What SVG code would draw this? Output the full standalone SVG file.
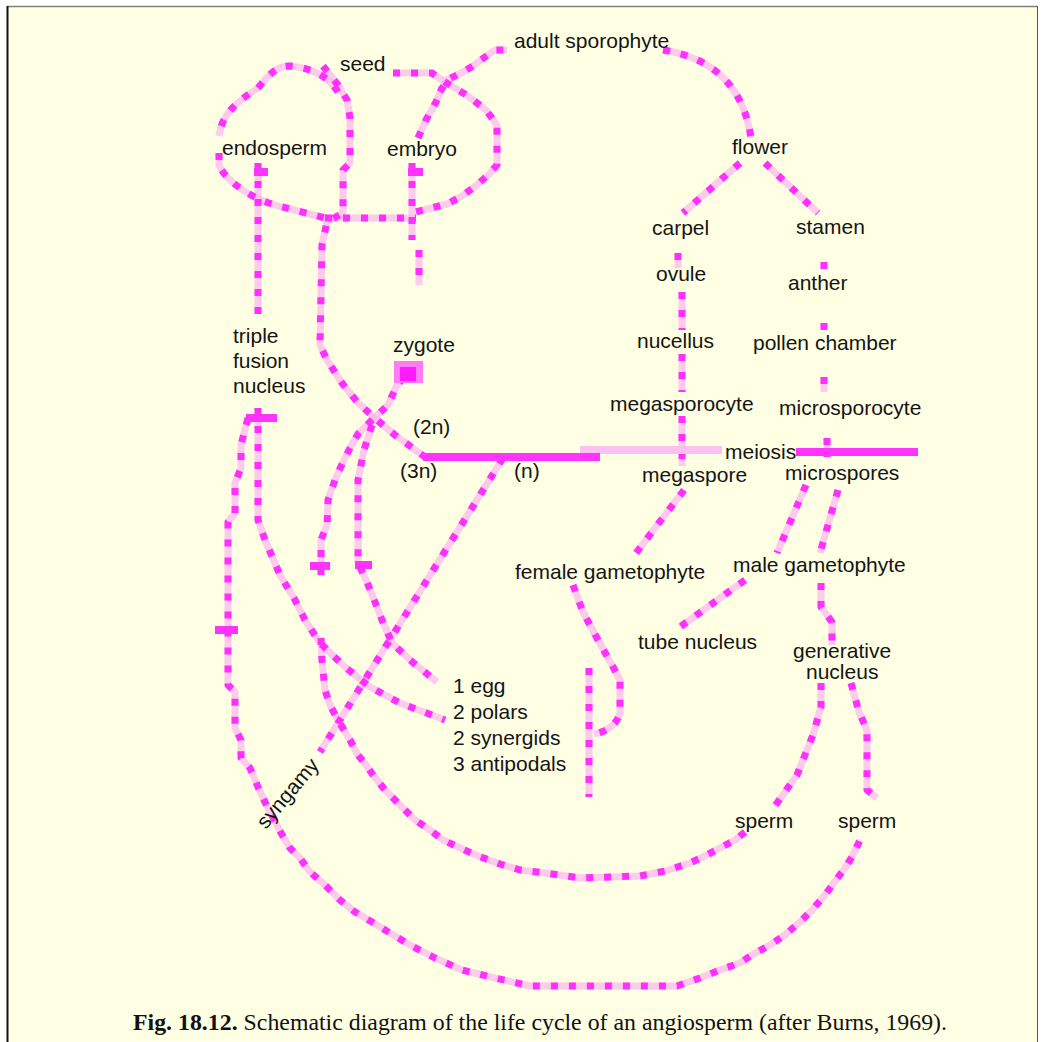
<svg xmlns="http://www.w3.org/2000/svg" xmlns:xlink="http://www.w3.org/1999/xlink" width="1052" height="1042" viewBox="0 0 1052 1042">
<style>
  .lbl { font-family: "Liberation Sans", Arial, sans-serif; font-size: 21px; fill: #141414; }
  .cap { font-family: "Liberation Serif", "Times New Roman", serif; font-size: 23.5px; fill: #111; }
  .base { fill: none; stroke: #ffb4f0; stroke-opacity: 0.7; stroke-width: 7; stroke-linejoin: round; }
  .dash { fill: none; stroke: #ff30ff; stroke-width: 7; stroke-dasharray: 7 11; stroke-linejoin: round; }
  .solid { fill: none; stroke: #ff33ff; stroke-width: 8; }
  .pale { fill: none; stroke: #ffbff0; stroke-width: 8; }
</style>
<defs>
  <path id="c1" d="M 338,92 C 328,76 312,68 290,66 C 275,66 268,76 258,88 C 240,100 222,112 219,136"/>
  <path id="c2" d="M 219,153 L 219,165 C 225,180 250,198 275,205 L 325,218"/>
  <path id="c3" d="M 323,66 L 338,85 L 347,100 L 350,118 L 350,163 L 343,170 L 343,213 L 327,222 L 322,245 L 320,345 L 327,360 L 342,383 L 358,403 L 377,420 L 395,435 L 425,457"/>
  <path id="c4" d="M 325,218 L 416,218"/>
  <path id="c5" d="M 418,138 L 426,120 L 436,102 L 442,88"/>
  <path id="c6" d="M 393,73 L 432,73 L 445,82 L 468,96 L 486,110 L 497,125 L 497,165 L 489,174 L 477,185 L 462,196 L 447,204 L 416,212"/>
  <path id="c7" d="M 440,92 L 447,80 L 463,72 L 473,66 L 485,57 L 495,50 L 507,50"/>
  <path id="c8" d="M 663,50 Q 740,62 751,138"/>
  <path id="c9" d="M 740,163 L 683,213"/>
  <path id="c10" d="M 765,163 L 818,213"/>
  <path id="c11" d="M 678,253 L 678,268"/>
  <path id="c12" d="M 682,292 L 682,330"/>
  <path id="c13" d="M 682,354 L 682,392"/>
  <path id="c14" d="M 682,416 L 682,466"/>
  <path id="c15" d="M 824,262 L 824,269"/>
  <path id="c16" d="M 824,323 L 824,330"/>
  <path id="c17" d="M 824,377 L 824,392"/>
  <path id="c18" d="M 827,438 L 827,457"/>
  <path id="c19" d="M 503,458 L 320,752"/>
  <path id="c20" d="M 684,490 L 636,553"/>
  <path id="c21" d="M 806,485 L 777,553"/>
  <path id="c22" d="M 838,490 L 820,553"/>
  <path id="c23" d="M 745,580 L 680,627"/>
  <path id="c24" d="M 821,583 L 821,607 L 832,622 L 832,645"/>
  <path id="c25" d="M 821,683 L 821,707 L 813,735 L 797,775 L 775,806"/>
  <path id="c26" d="M 851,683 L 859,712 L 867,730 L 867,790 L 877,798"/>
  <path id="c27" d="M 573,585 L 583,612 L 598,640 L 612,665 L 620,680 L 620,713 Q 615,730 594,734"/>
  <path id="c28" d="M 589,668 L 589,797"/>
  <path id="c29" d="M 745,832 L 735,840 L 720,848 L 705,856 L 690,863 L 665,871 L 640,876 L 580,878 L 545,873 L 520,870 L 500,864 L 478,856 L 458,847 L 443,840 L 430,830 L 415,820 L 400,805 L 385,790 L 373,775 L 366,765 L 358,755 L 350,740 L 338,720 L 330,705 L 325,690 L 322,660 L 321,638"/>
  <path id="c30" d="M 321,575 L 321,540 L 327,525 L 328,500 L 335,480 L 343,462 L 350,448 L 358,434 L 372,420 L 388,405 L 397,385 L 410,372"/>
  <path id="c31" d="M 372,425 L 364,450 L 358,480 L 358,563 L 367,582 L 375,602 L 382,620 L 392,643 L 410,660 L 437,682"/>
  <path id="c32" d="M 258,408 L 258,520 L 265,540 L 280,575 L 295,600 L 305,620 L 320,643 L 345,667 L 370,687 L 400,703 L 445,720"/>
  <path id="c33" d="M 248,418 L 241,445 L 241,468 L 235,483 L 235,513 L 228,522 L 228,685 L 235,692 L 235,728 L 241,740 L 241,758 L 250,768 L 258,787 L 265,802 L 281,833 L 290,848 L 300,858 L 310,872 L 325,885 L 340,900 L 355,912 L 372,922 L 390,933 L 410,945 L 435,958 L 462,970 L 495,978 L 530,986 L 677,986 L 700,978 L 720,970 L 740,963 L 752,955 L 770,945 L 785,935 L 800,922 L 812,910 L 825,895 L 836,880 L 845,868 L 852,857 L 860,840"/>
  <path id="c34" d="M 258,163 L 258,314"/>
  <path id="c35" d="M 412,163 L 412,240 M 419,250 L 419,285"/>
</defs>

<rect x="0" y="0" width="1052" height="1042" fill="#ffffff"/>
<rect x="7" y="7" width="1030" height="1040" fill="#ffffe4"/>
<line x1="7" y1="6.5" x2="1037" y2="6.5" stroke="#808080" stroke-width="1.5"/>
<line x1="7.5" y1="6" x2="7.5" y2="1042" stroke="#111" stroke-width="2"/>
<line x1="1037.5" y1="6" x2="1037.5" y2="1042" stroke="#555" stroke-width="1"/>

<g id="connectors">
  <g id="connectors-base" class="base">
    <use xlink:href="#c1"/><use xlink:href="#c2"/><use xlink:href="#c3"/><use xlink:href="#c4"/>
    <use xlink:href="#c5"/><use xlink:href="#c6"/><use xlink:href="#c7"/><use xlink:href="#c8"/>
    <use xlink:href="#c9"/><use xlink:href="#c10"/><use xlink:href="#c11"/><use xlink:href="#c12"/>
    <use xlink:href="#c13"/><use xlink:href="#c14"/><use xlink:href="#c15"/><use xlink:href="#c16"/>
    <use xlink:href="#c17"/><use xlink:href="#c18"/><use xlink:href="#c19"/><use xlink:href="#c20"/>
    <use xlink:href="#c21"/><use xlink:href="#c22"/><use xlink:href="#c23"/><use xlink:href="#c24"/>
    <use xlink:href="#c25"/><use xlink:href="#c26"/><use xlink:href="#c27"/><use xlink:href="#c28"/>
    <use xlink:href="#c29"/><use xlink:href="#c30"/><use xlink:href="#c31"/><use xlink:href="#c32"/>
    <use xlink:href="#c33"/><use xlink:href="#c34"/><use xlink:href="#c35"/>
  </g>
  <g id="connectors-dash" class="dash">
    <use xlink:href="#c1"/><use xlink:href="#c2"/><use xlink:href="#c3"/><use xlink:href="#c4"/>
    <use xlink:href="#c5"/><use xlink:href="#c6"/><use xlink:href="#c7"/><use xlink:href="#c8"/>
    <use xlink:href="#c9"/><use xlink:href="#c10"/><use xlink:href="#c11"/><use xlink:href="#c12"/>
    <use xlink:href="#c13"/><use xlink:href="#c14"/><use xlink:href="#c15"/><use xlink:href="#c16"/>
    <use xlink:href="#c17"/><use xlink:href="#c18"/><use xlink:href="#c19"/><use xlink:href="#c20"/>
    <use xlink:href="#c21"/><use xlink:href="#c22"/><use xlink:href="#c23"/><use xlink:href="#c24"/>
    <use xlink:href="#c25"/><use xlink:href="#c26"/><use xlink:href="#c27"/><use xlink:href="#c28"/>
    <use xlink:href="#c29"/><use xlink:href="#c30"/><use xlink:href="#c31"/><use xlink:href="#c32"/>
    <use xlink:href="#c33"/><use xlink:href="#c34"/><use xlink:href="#c35"/>
  </g>
  <g id="meiosis-line">
    <path class="pale" d="M 580,450 L 722,450"/>
    <path class="solid" d="M 423,457 L 600,457"/>
    <path class="solid" d="M 796,452 L 918,452"/>
  </g>
  <g id="ticks" class="solid">
    <path d="M 254,172 L 268,172"/>
    <path d="M 408,172 L 423,172"/>
    <path d="M 246,418 L 277,418"/>
    <path d="M 215,630 L 238,630"/>
    <path d="M 310,566 L 330,566"/>
    <path d="M 355,565 L 372,565"/>
  </g>
  <g id="zygote-mark">
    <rect x="394" y="361" width="29" height="22" fill="#ff7af5"/>
    <rect x="400" y="367" width="16" height="14" fill="#ff1aff"/>
  </g>
</g>

<g id="n-adult"><text class="lbl" x="514" y="48">adult sporophyte</text></g>
<g id="n-seed"><text class="lbl" x="340" y="71">seed</text></g>
<g id="n-endosperm"><text class="lbl" x="222" y="155">endosperm</text></g>
<g id="n-embryo"><text class="lbl" x="387" y="156">embryo</text></g>
<g id="n-flower"><text class="lbl" x="732" y="154">flower</text></g>
<g id="n-carpel"><text class="lbl" x="652" y="235">carpel</text></g>
<g id="n-stamen"><text class="lbl" x="796" y="234">stamen</text></g>
<g id="n-ovule"><text class="lbl" x="656" y="281">ovule</text></g>
<g id="n-anther"><text class="lbl" x="788" y="290">anther</text></g>
<g id="n-nucellus"><text class="lbl" x="637" y="348">nucellus</text></g>
<g id="n-pollen"><text class="lbl" x="753" y="350">pollen chamber</text></g>
<g id="n-megasporocyte"><text class="lbl" x="610" y="411">megasporocyte</text></g>
<g id="n-microsporocyte"><text class="lbl" x="779" y="415">microsporocyte</text></g>
<g id="n-triple"><text class="lbl" x="233" y="343">triple</text><text class="lbl" x="233" y="368">fusion</text><text class="lbl" x="233" y="393">nucleus</text></g>
<g id="n-zygote"><text class="lbl" x="393" y="352">zygote</text></g>
<g id="n-2n"><text class="lbl" x="413" y="434">(2n)</text></g>
<g id="n-3n"><text class="lbl" x="400" y="478">(3n)</text></g>
<g id="n-n"><text class="lbl" x="514" y="478">(n)</text></g>
<g id="n-meiosis"><text class="lbl" x="725" y="459">meiosis</text></g>
<g id="n-megaspore"><text class="lbl" x="642" y="482">megaspore</text></g>
<g id="n-microspores"><text class="lbl" x="785" y="480">microspores</text></g>
<g id="n-female"><text class="lbl" x="515" y="579">female gametophyte</text></g>
<g id="n-male"><text class="lbl" x="733" y="572">male gametophyte</text></g>
<g id="n-tube"><text class="lbl" x="638" y="649">tube nucleus</text></g>
<g id="n-generative"><text class="lbl" x="793" y="658">generative</text><text class="lbl" x="806" y="679">nucleus</text></g>
<g id="n-embryosac"><text class="lbl" x="453" y="693">1 egg</text><text class="lbl" x="453" y="719">2 polars</text><text class="lbl" x="453" y="745">2 synergids</text><text class="lbl" x="453" y="771">3 antipodals</text></g>
<g id="n-syngamy"><text class="lbl" x="266" y="830" transform="rotate(-50 266 830)">syngamy</text></g>
<g id="n-sperm1"><text class="lbl" x="735" y="828">sperm</text></g>
<g id="n-sperm2"><text class="lbl" x="838" y="828">sperm</text></g>

<g id="caption"><text class="cap" x="133" y="1030" textLength="814" lengthAdjust="spacingAndGlyphs"><tspan font-weight="bold">Fig. 18.12.</tspan> Schematic diagram of the life cycle of an angiosperm (after Burns, 1969).</text></g>
</svg>
